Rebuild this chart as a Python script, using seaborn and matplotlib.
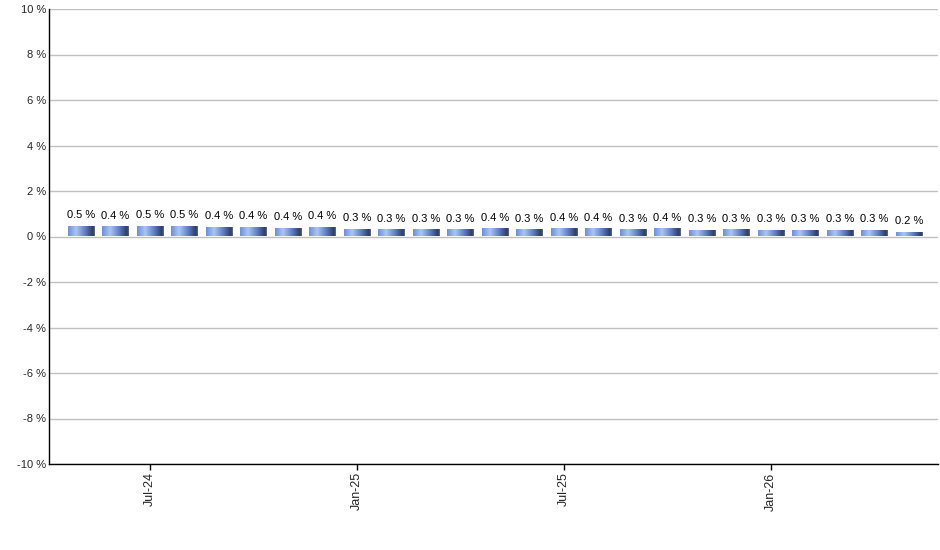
import numpy as np
import pandas as pd
import matplotlib
matplotlib.use("Agg")
import matplotlib.pyplot as plt
import seaborn as sns
from matplotlib.colors import LinearSegmentedColormap

# ---- data ---- #
months = ['May-24', 'Jun-24', 'Jul-24', 'Aug-24', 'Sep-24', 'Oct-24', 'Nov-24', 'Dec-24',
          'Jan-25', 'Feb-25', 'Mar-25', 'Apr-25', 'May-25', 'Jun-25', 'Jul-25', 'Aug-25',
          'Sep-25', 'Oct-25', 'Nov-25', 'Dec-25', 'Jan-26', 'Feb-26', 'Mar-26', 'Apr-26',
          'May-26']
values = [0.48, 0.44, 0.47, 0.47, 0.42, 0.42, 0.38, 0.42,
          0.34, 0.32, 0.31, 0.31, 0.36, 0.32, 0.36, 0.36,
          0.31, 0.36, 0.28, 0.31, 0.28, 0.28, 0.28, 0.28,
          0.20]
tick_labels = ['Jul-24', 'Jan-25', 'Jul-25', 'Jan-26']
y_ticks = [-10, -8, -6, -4, -2, 0, 2, 4, 6, 8, 10]

df = pd.DataFrame({'Month': months, 'Value': values})

sns.set_style("white")
plt.rcParams['font.family'] = ['Liberation Sans', 'DejaVu Sans']

fig = plt.figure(figsize=(9.4, 5.5), dpi=100)
ax = fig.add_axes([49 / 940, 1 - 464 / 550, 889 / 940, 455 / 550])

sns.barplot(data=df, x='Month', y='Value', ax=ax, width=0.78,
            color='#6f95e0', edgecolor='none', zorder=3)

# cylinder-like shading on each bar
shade = LinearSegmentedColormap.from_list(
    'shade', [(0.0, '#6a8fdc'), (0.3, '#abc6f4'), (0.65, '#5d7bc0'), (0.94, '#2b3a5e'), (1.0, '#7a7a7a')])
grad = np.linspace(0, 1, 256).reshape(1, -1)
for patch in ax.patches:
    x0, y0 = patch.get_x(), patch.get_y()
    w, h = patch.get_width(), patch.get_height()
    im = ax.imshow(grad, cmap=shade, aspect='auto', zorder=3,
                   extent=[x0, x0 + w, y0, y0 + h], interpolation='bicubic')
    im.set_clip_path(patch)
    patch.set_facecolor('none')

for i, v in enumerate(values):
    ax.text(i, v + 0.25, f'{v:.1f} %', ha='center', va='bottom', fontsize=8, color='black', zorder=4)

ax.set_xlim(-0.93, len(months) - 1 + 0.84)
ax.set_ylim(-10, 10)
ax.set_yticks(y_ticks)
ax.set_yticklabels([f'{t} %' for t in y_ticks], fontsize=8)
ax.set_xticks([months.index(m) for m in tick_labels])
ax.set_xticklabels(tick_labels, rotation=90, fontsize=9)
ax.tick_params(axis='x', length=4, width=1, color='black', pad=2, bottom=True)
ax.tick_params(axis='y', length=0, pad=2)
ax.set_xlabel('')
ax.set_ylabel('')

ax.grid(True, axis='y', color='#c0c0c0', linewidth=1, zorder=0)
ax.set_axisbelow(True)
for side in ['top', 'right']:
    ax.spines[side].set_visible(False)
for side in ['left', 'bottom']:
    ax.spines[side].set_color('black')
    ax.spines[side].set_linewidth(1)

fig.savefig('out.png', dpi=100)
